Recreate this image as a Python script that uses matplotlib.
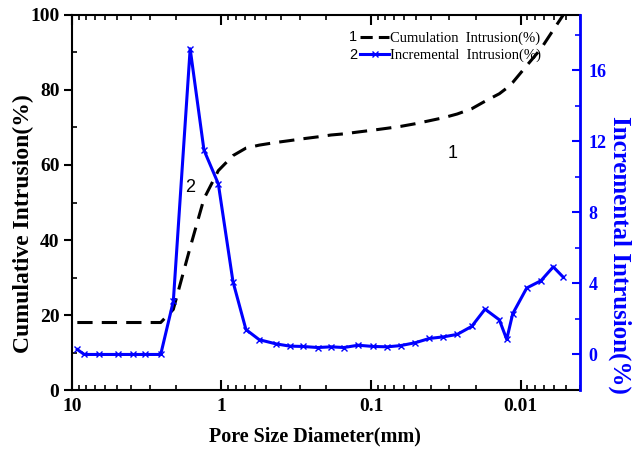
import numpy as np
import matplotlib.pyplot as plt
from matplotlib.ticker import FixedLocator, NullFormatter
from matplotlib.lines import Line2D

# pore size diameter (mm)
diameter = [9.21, 8.27, 6.60, 4.95, 3.91, 3.25, 2.55, 2.10, 1.62, 1.31, 1.05,
            0.838, 0.686, 0.559, 0.434, 0.350, 0.285, 0.227, 0.185, 0.152,
            0.122, 0.0966, 0.0778, 0.0633, 0.0506, 0.0407, 0.0328, 0.0265,
            0.0212, 0.01727, 0.01386, 0.01237, 0.01128, 0.00909, 0.0073,
            0.00604, 0.00518]
cumulative = [18, 18, 18, 18, 18, 18, 18, 21.5, 38, 51, 58.5,
              62.5, 64.5, 65.3, 66, 66.5, 67, 67.5, 68, 68.3,
              68.8, 69.3, 69.8, 70.3, 71, 71.8, 72.6, 73.6,
              75, 77, 79, 80.5, 82, 86.5, 91,
              96, 100]
incremental = [0.28, 0.0, 0.0, 0.0, 0.0, 0.0, 0.0, 2.99, 17.2, 11.5, 9.6,
               4.1, 1.4, 0.83, 0.6, 0.47, 0.45, 0.39, 0.43, 0.39,
               0.52, 0.45, 0.43, 0.5, 0.66, 0.9, 0.99, 1.13,
               1.58, 2.55, 1.95, 0.85, 2.29, 3.74, 4.15,
               4.93, 4.35]

serif = 'Liberation Serif'
sans = 'Liberation Sans'
blue = '#0000ff'

fig = plt.figure(figsize=(6.33, 4.5), dpi=100)
ax = fig.add_axes([0.1137, 0.1333, 0.8026, 0.8334])
ax2 = ax.twinx()

ax.plot(diameter, cumulative, color='black', lw=2.2, ls=(0, (5, 3)), zorder=3)
ax2.plot(diameter, incremental, color=blue, lw=2.2, marker='x', ms=5,
         mew=1.0, zorder=2)

ax.set_xscale('log')
ax.set_xlim(10, 0.004)
ax.set_ylim(0, 100)
ax2.set_ylim(-2, 19.1)

ax.set_xticks([10, 1, 0.1, 0.01])
ax.set_xticklabels(['10', '1', '0.1', '0.01'])
ax.xaxis.set_minor_locator(FixedLocator(
    [m * 10.0 ** e for e in range(-3, 1) for m in range(2, 10)]))
ax.xaxis.set_minor_formatter(NullFormatter())
ax.set_yticks(np.arange(0, 101, 20))
ax.set_yticks(np.arange(10, 100, 20), minor=True)
ax2.set_yticks([0, 4, 8, 12, 16])
ax2.set_yticks([2, 6, 10, 14, 18], minor=True)

ax.tick_params(axis='x', which='major', direction='in', length=7, width=1.5,
               top=True, labelsize=14, pad=6)
ax.tick_params(axis='x', which='minor', direction='in', length=3.5, width=1.2,
               top=True)
ax.tick_params(axis='y', which='major', direction='out', length=6, width=1.5,
               right=False, labelsize=14, pad=3)
ax.tick_params(axis='y', which='minor', direction='in', length=3.5, width=1.2,
               right=False)
ax2.tick_params(axis='y', which='major', direction='in', length=6, width=1.5,
                colors=blue, labelsize=13, pad=6)
ax2.tick_params(axis='y', which='minor', direction='in', length=3.5, width=1.2,
                colors=blue)

for lab in ax.get_xticklabels() + ax.get_yticklabels() + ax2.get_yticklabels():
    lab.set_fontfamily(serif)
    lab.set_fontweight('bold')

for s in ['left', 'bottom', 'top']:
    ax.spines[s].set_linewidth(1.5)
ax2.spines['right'].set_color(blue)
ax2.spines['right'].set_linewidth(2)
ax2.spines['left'].set_visible(False)
ax2.spines['top'].set_visible(False)
ax2.spines['bottom'].set_visible(False)

ax.set_xlabel('Pore Size Diameter(mm)', fontfamily=serif, fontweight='bold',
              fontsize=14.5, va='center')
ax.xaxis.set_label_coords(0.478, -0.125)
ax.set_ylabel('Cumulative Intrusion(%)', fontfamily=serif, fontweight='bold',
              fontsize=17, va='center')
ax.yaxis.set_label_coords(-0.095, 0.445)
ax2.set_ylabel('Incremental Intrusion(%)', fontfamily=serif, fontweight='bold',
               fontsize=18, color=blue, rotation=270, va='center')
ax2.yaxis.set_label_coords(1.079, 0.36)

ax.text(0.75, 0.63, '1', transform=ax.transAxes, fontsize=13, ha='center',
        va='center', family=sans)
ax.text(0.233, 0.54, '2', transform=ax.transAxes, fontsize=13, ha='center',
        va='center', family=sans)

handles = [Line2D([], [], color='black', lw=2.2, ls=(0, (4, 2))),
           Line2D([], [], color=blue, lw=2.2, marker='x', ms=4, mew=1.0)]
leg = ax.legend(handles, ['Cumulation  Intrusion(%)', 'Incremental  Intrusion(%)'],
                loc='upper left', bbox_to_anchor=(0.547, 0.982), frameon=False,
                prop={'family': serif, 'size': 10.5}, handlelength=2.0,
                handletextpad=0.05, labelspacing=0.2, borderpad=0.2)
ax.text(0.545, 0.941, '1', transform=ax.transAxes, fontsize=10.5,
        family=sans, ha='left', va='center')
ax.text(0.545, 0.893, '2', transform=ax.transAxes, fontsize=10.5,
        family=sans, ha='left', va='center')

fig.savefig('out.png', dpi=100)
